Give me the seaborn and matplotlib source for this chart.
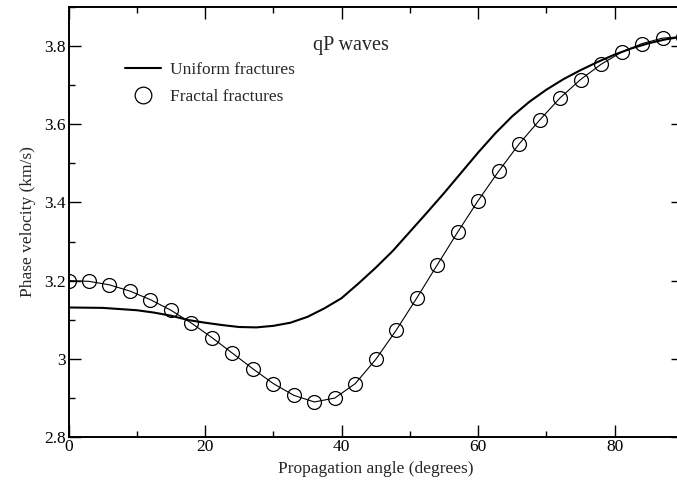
import matplotlib
matplotlib.use("Agg")
import matplotlib.pyplot as plt
from matplotlib.lines import Line2D
from matplotlib.ticker import MultipleLocator, FormatStrFormatter
import seaborn as sns
import pandas as pd

# Uniform fractures (solid curve)
uniform_angle = [0, 5, 10, 12.5, 15, 17.5, 20, 22.5, 25, 27.5, 30, 32.5, 35, 37.5, 40,
                 42.5, 45, 47.5, 50, 52.5, 55, 57.5, 60, 62.5, 65, 67.5, 70, 72.5, 75,
                 77.5, 80, 82.5, 85, 87.5, 90]
uniform_vel = [3.131, 3.130, 3.124, 3.118, 3.110, 3.099, 3.092, 3.086, 3.081, 3.080,
               3.084, 3.092, 3.107, 3.129, 3.155, 3.193, 3.233, 3.276, 3.325, 3.374,
               3.424, 3.476, 3.528, 3.577, 3.621, 3.658, 3.689, 3.716, 3.739, 3.760,
               3.779, 3.795, 3.808, 3.818, 3.825]

# Fractal fractures (circles)
fractal_angle = [0, 3, 6, 9, 12, 15, 18, 21, 24, 27, 30, 33, 36, 39, 42, 45, 48, 51,
                 54, 57, 60, 63, 66, 69, 72, 75, 78, 81, 84, 87, 90]
fractal_vel = [3.200, 3.198, 3.189, 3.173, 3.151, 3.124, 3.091, 3.054, 3.014, 2.974,
               2.936, 2.906, 2.889, 2.899, 2.936, 2.998, 3.073, 3.155, 3.240, 3.324,
               3.405, 3.480, 3.550, 3.611, 3.668, 3.715, 3.754, 3.785, 3.807, 3.821, 3.825]

uni = pd.DataFrame({"angle": uniform_angle, "vel": uniform_vel})
fra = pd.DataFrame({"angle": fractal_angle, "vel": fractal_vel})

sns.set_style("ticks")
plt.rcParams["font.family"] = ["Liberation Serif", "DejaVu Serif"]

fig = plt.figure(figsize=(6.77, 4.86), dpi=100)
ax = fig.add_axes([68.5 / 677, (486 - 436.7) / 486, (683 - 68.5) / 677, (436.7 - 7.3) / 486])

sns.lineplot(data=uni, x="angle", y="vel", ax=ax, color="black", lw=1.5, sort=False)
sns.lineplot(data=fra, x="angle", y="vel", ax=ax, color="black", lw=0.8, sort=False,
             marker="o", markersize=10, markerfacecolor="none", markeredgecolor="black",
             markeredgewidth=0.9)

ax.set_xlim(0, 90)
ax.set_ylim(2.8, 3.9)
ax.xaxis.set_major_locator(MultipleLocator(20))
ax.xaxis.set_minor_locator(MultipleLocator(10))
ax.yaxis.set_major_locator(MultipleLocator(0.2))
ax.yaxis.set_minor_locator(MultipleLocator(0.1))
ax.yaxis.set_major_formatter(FormatStrFormatter("%g"))
ax.xaxis.set_major_formatter(FormatStrFormatter("%g"))

ax.tick_params(which="both", direction="in", top=True, right=True, colors="black",
               labelsize=12.5)
ax.tick_params(which="major", length=8.6, width=1.0, pad=2)
ax.tick_params(which="minor", length=4.3, width=1.0)
for s in ax.spines.values():
    s.set_linewidth(1.4)
    s.set_color("black")
    s.set_visible(True)

ax.set_xlabel("Propagation angle (degrees)", fontsize=12.5, labelpad=4)
ax.set_ylabel("Phase velocity (km/s)", fontsize=12.5, labelpad=6)

ax.text(0.46, 0.912, "qP waves", transform=ax.transAxes, ha="center", va="center",
        fontsize=14.5)

handles = [
    Line2D([], [], color="black", lw=1.5),
    Line2D([], [], color="black", lw=0, marker="o", markersize=12,
           markerfacecolor="none", markeredgecolor="black", markeredgewidth=0.9),
]
ax.legend(handles, ["Uniform fractures", "Fractal fractures"], loc="upper left",
          bbox_to_anchor=(0.092, 0.872), frameon=False, fontsize=12.5, borderpad=0,
          borderaxespad=0, handlelength=2.1, handletextpad=0.5, labelspacing=0.6)

fig.savefig("out.png", dpi=100)
